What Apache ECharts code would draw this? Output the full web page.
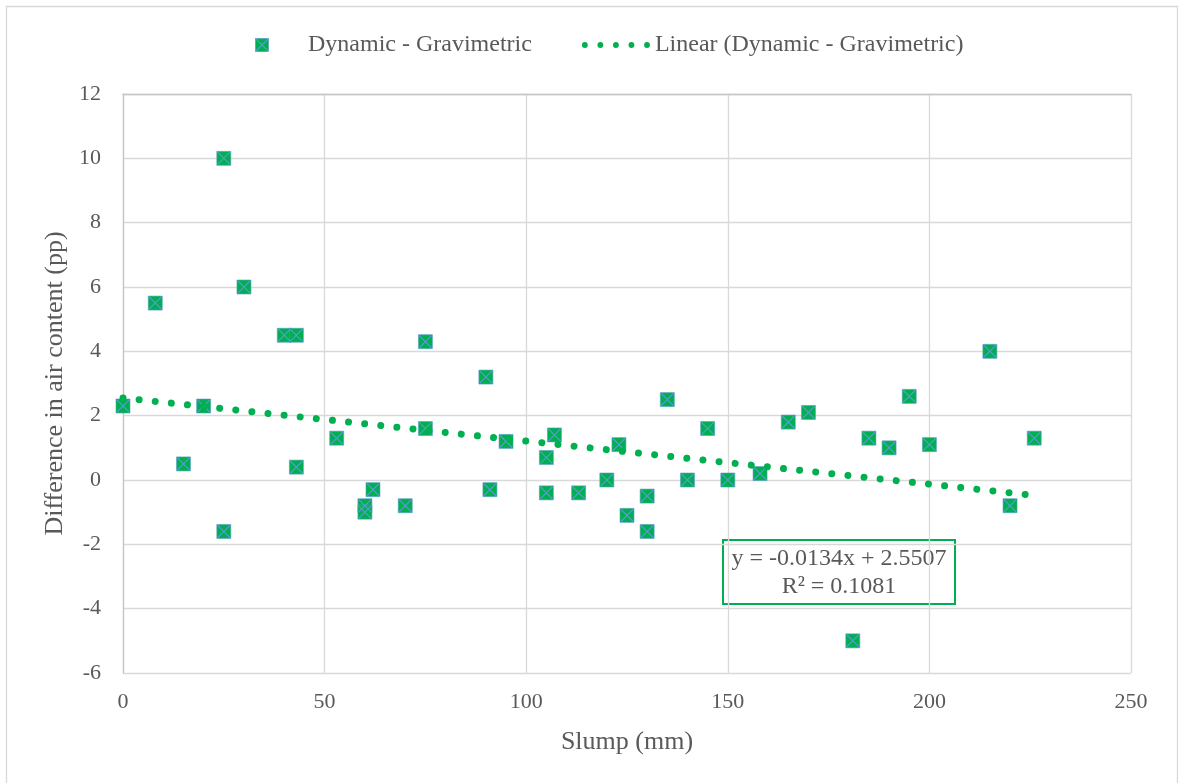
<!DOCTYPE html>
<html>
<head>
<meta charset="utf-8">
<title>Slump vs difference in air content</title>
<script src="https://cdn.jsdelivr.net/npm/echarts@6/dist/echarts.min.js"></script>
<style>
  html, body { margin: 0; padding: 0; background: #ffffff; }
  #chart { width: 1179px; height: 783px; }
</style>
</head>
<body>
<div id="chart"></div>
<script>
// Slump (mm) of each mix and the matching dynamic minus gravimetric air content (pp)
const slump = [0, 8, 15, 20, 25, 25, 30, 40, 43, 43, 53, 60, 60, 62, 70, 75, 75, 90, 91, 95,
  105, 105, 107, 113, 120, 123, 125, 130, 130, 135, 140, 145, 150, 158, 165, 170, 181, 185,
  190, 195, 200, 215, 220, 226];
const airDiff = [2.3, 5.5, 0.5, 2.3, 10, -1.6, 6, 4.5, 4.5, 0.4, 1.3, -0.8, -1.0, -0.3, -0.8,
  4.3, 1.6, 3.2, -0.3, 1.2, 0.7, -0.4, 1.4, -0.4, 0, 1.1, -1.1, -0.5, -1.6, 2.5, 0, 1.6, 0,
  0.2, 1.8, 2.1, -5, 1.3, 1.0, 2.6, 1.1, 4, -0.8, 1.3];

// Linear trend line coefficients
const trendSlope = [-0.0134];
const trendIntercept = [2.5507];
const trendR2 = [0.1081];

// Axis ranges
const xTicks = [0, 50, 100, 150, 200, 250];
const yTicks = [-6, -4, -2, 0, 2, 4, 6, 8, 10, 12];

const seriesName = 'Dynamic - Gravimetric';
const trendName = 'Linear (Dynamic - Gravimetric)';

const FONT = '"Liberation Serif", "Times New Roman", serif';
const TEXT = '#595959';
const GREEN = '#00B050';
const CROSS = '#5B9BD5';

// Legend key: green square with a diagonal cross, placed inside a wider box
function legendSvg(w, offset) {
  return '<svg xmlns="http://www.w3.org/2000/svg" width="' + (w * 2) + '" height="28" viewBox="0 0 ' + w + ' 14">' +
    '<g transform="translate(' + offset + ',0)">' +
    '<rect x="0.4" y="0.4" width="13.2" height="13.2" fill="' + GREEN + '" stroke="' + CROSS + '" stroke-width="0.6"/>' +
    '<path d="M1.1 1.1L12.9 12.9M12.9 1.1L1.1 12.9" stroke="' + CROSS + '" stroke-width="1.2" fill="none"/>' +
    '</g></svg>';
}
const legendMarker = 'image://data:image/svg+xml;charset=utf-8,' + encodeURIComponent(legendSvg(68, 20));

// Diagonal cross outline drawn over each square marker
const d = 0.85;
const crossPts = [
  [0, d], [d, 0], [7, 7 - d], [14 - d, 0], [14, d], [7 + d, 7],
  [14, 14 - d], [14 - d, 14], [7, 7 + d], [d, 14], [0, 14 - d], [7 - d, 7]
];
const crossPath = 'path://' + crossPts.map(function (p, i) {
  return (i === 0 ? 'M' : 'L') + p[0] + ' ' + p[1];
}).join('') + 'Z';

// Five round dots for the trend line legend key
const dotIcon = 'path://' + [0, 1, 2, 3, 4].map(function (i) {
  const cx = 3 + i * 16;
  return 'M' + (cx - 3) + ' 3a3 3 0 1 0 6 0a3 3 0 1 0 -6 0Z';
}).join('');

const points = slump.map(function (x, i) { return [x, airDiff[i]]; });
const xMin = 0;
const xMax = Math.max.apply(null, slump);
const trendPoints = [xMin, xMax].map(function (x) {
  return [x, trendSlope[0] * x + trendIntercept[0]];
});
const equation = 'y = ' + trendSlope[0].toFixed(4) + 'x + ' + trendIntercept[0].toFixed(4) +
  '\nR² = ' + trendR2[0].toFixed(4);

const chart = echarts.init(document.getElementById('chart'), null, { renderer: 'canvas' });

chart.setOption({
  animation: false,
  backgroundColor: '#ffffff',
  textStyle: { fontFamily: FONT },
  grid: { left: 123, right: 48, top: 94, bottom: 110 },
  legend: {
    left: 230,
    top: 28,
    itemGap: 50,
    itemWidth: 68,
    itemHeight: 14,
    textStyle: { color: TEXT, fontSize: 24, fontFamily: FONT },
    data: [
      { name: seriesName, icon: legendMarker },
      { name: trendName, icon: dotIcon }
    ]
  },
  xAxis: [{
    type: 'value',
    min: xTicks[0],
    max: xTicks[xTicks.length - 1],
    interval: xTicks[1] - xTicks[0],
    name: 'Slump (mm)',
    nameLocation: 'middle',
    nameGap: 56,
    nameTextStyle: { color: TEXT, fontSize: 26, fontFamily: FONT },
    axisLine: { show: false },
    axisTick: { show: false },
    axisLabel: { color: TEXT, fontSize: 22, fontFamily: FONT, margin: 18 },
    splitLine: { show: true, lineStyle: { color: '#d9d9d9', width: 1.3 } }
  }, {
    type: 'value',
    min: xTicks[0],
    max: xTicks[xTicks.length - 1],
    interval: xTicks[1] - xTicks[0],
    axisLine: { show: true, onZero: true, lineStyle: { color: '#c6c6c6', width: 1.3 } },
    axisTick: { show: false },
    axisLabel: { show: false },
    splitLine: { show: false }
  }],
  yAxis: {
    type: 'value',
    min: yTicks[0],
    max: yTicks[yTicks.length - 1],
    interval: yTicks[1] - yTicks[0],
    name: 'Difference in air content (pp)',
    nameLocation: 'middle',
    nameGap: 53,
    nameTextStyle: { color: TEXT, fontSize: 26, fontFamily: FONT },
    axisLine: { show: true, lineStyle: { color: '#c6c6c6', width: 1.3 } },
    axisTick: { show: false },
    axisLabel: { color: TEXT, fontSize: 22, fontFamily: FONT, margin: 22 },
    splitLine: { show: true, lineStyle: { color: '#d9d9d9', width: 1.3 } }
  },
  series: [{
    name: seriesName,
    type: 'scatter',
    xAxisIndex: 0,
    data: points,
    symbol: 'rect',
    symbolSize: 14,
    itemStyle: { color: GREEN, borderColor: CROSS, borderWidth: 0.6, opacity: 1 },
    z: 2
  }, {
    name: seriesName,
    type: 'scatter',
    xAxisIndex: 0,
    data: points,
    symbol: crossPath,
    symbolSize: 13,
    silent: true,
    itemStyle: { color: CROSS, opacity: 1 },
    z: 2.5
  }, {
    name: trendName,
    type: 'line',
    xAxisIndex: 0,
    data: trendPoints,
    showSymbol: false,
    symbol: 'none',
    silent: true,
    itemStyle: { color: GREEN },
    lineStyle: { color: GREEN, width: 7, type: [0.001, 16.2], cap: 'round' },
    z: 3
  }],
  graphic: [{
    type: 'rect',
    silent: true,
    shape: { x: 6.5, y: 6.5, width: 1171, height: 800 },
    style: { fill: 'none', stroke: '#d9d9d9', lineWidth: 1.3 },
    z: 0
  }, {
    type: 'group',
    left: 722,
    top: 539,
    z: 10,
    children: [{
      type: 'rect',
      shape: { x: 0, y: 0, width: 232, height: 64 },
      style: { fill: '#ffffff', stroke: GREEN, lineWidth: 2 }
    }, {
      type: 'text',
      x: 116,
      y: 33,
      style: {
        text: equation,
        fill: TEXT,
        font: '24px ' + FONT,
        align: 'center',
        verticalAlign: 'middle',
        lineHeight: 28
      }
    }]
  }]
});
</script>
</body>
</html>
